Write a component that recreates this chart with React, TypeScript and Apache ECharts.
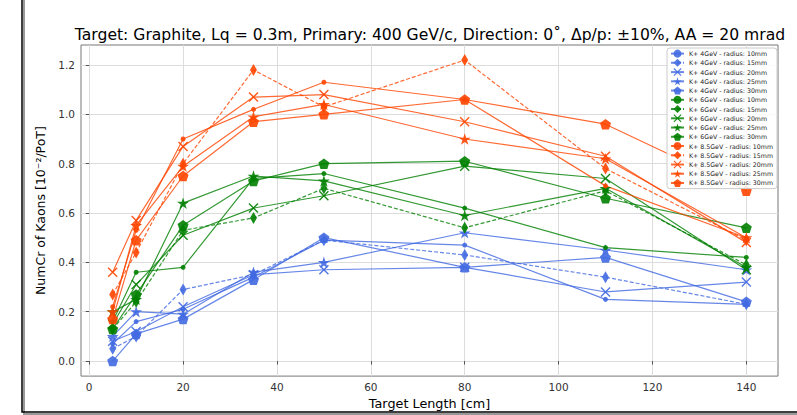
import React, { useEffect, useRef } from "react";
import * as echarts from "echarts";

const xs = [5, 10, 20, 35, 50, 80, 110, 140];

const k4_10 = [0.07, 0.16, 0.21, 0.34, 0.49, 0.47, 0.25, 0.23];
const k4_15 = [0.05, 0.10, 0.29, 0.35, 0.49, 0.43, 0.34, 0.23];
const k4_20 = [0.08, 0.12, 0.22, 0.35, 0.37, 0.38, 0.28, 0.32];
const k4_25 = [0.10, 0.20, 0.19, 0.36, 0.40, 0.52, 0.45, 0.37];
const k4_30 = [0.00, 0.11, 0.17, 0.33, 0.50, 0.38, 0.42, 0.24];

const k6_10 = [0.16, 0.36, 0.38, 0.74, 0.76, 0.62, 0.46, 0.42];
const k6_15 = [0.13, 0.24, 0.53, 0.58, 0.70, 0.54, 0.69, 0.39];
const k6_20 = [0.15, 0.31, 0.51, 0.62, 0.67, 0.79, 0.74, 0.37];
const k6_25 = [0.20, 0.25, 0.64, 0.75, 0.73, 0.59, 0.70, 0.38];
const k6_30 = [0.13, 0.27, 0.55, 0.73, 0.80, 0.81, 0.66, 0.54];

const k8_10 = [0.22, 0.53, 0.90, 1.02, 1.13, 1.06, 0.71, 0.50];
const k8_15 = [0.27, 0.44, 0.80, 1.18, 1.03, 1.22, 0.78, 0.49];
const k8_20 = [0.36, 0.57, 0.87, 1.07, 1.08, 0.97, 0.83, 0.48];
const k8_25 = [0.20, 0.55, 0.79, 0.99, 1.04, 0.90, 0.82, 0.50];
const k8_30 = [0.17, 0.49, 0.75, 0.97, 1.00, 1.06, 0.96, 0.69];

const xTicks = [0, 20, 40, 60, 80, 100, 120, 140];
const yTicks = [0.0, 0.2, 0.4, 0.6, 0.8, 1.0, 1.2];

const groups = [
  { label: "K+ 4GeV", color: "#4169e1", data: [k4_10, k4_15, k4_20, k4_25, k4_30] },
  { label: "K+ 6GeV", color: "#008000", data: [k6_10, k6_15, k6_20, k6_25, k6_30] },
  { label: "K+ 8.5GeV", color: "#ff4500", data: [k8_10, k8_15, k8_20, k8_25, k8_30] },
];
const radii = ["10mm", "15mm", "20mm", "25mm", "30mm"];

const SYM_DIAMOND = "path://M0,0 L5,8 L0,16 L-5,8 Z";
const SYM_X =
  "path://M0,1 L1,0 L5,4 L9,0 L10,1 L6,5 L10,9 L9,10 L5,6 L1,10 L0,9 L4,5 Z";
const SYM_STAR =
  "path://M0,-1 L0.225,-0.309 L0.951,-0.309 L0.363,0.118 L0.588,0.809 L0,0.382 L-0.588,0.809 L-0.363,0.118 L-0.951,-0.309 L-0.225,-0.309 Z";
const SYM_PENT =
  "path://M0,-1 L0.951,-0.309 L0.588,0.809 L-0.588,0.809 L-0.951,-0.309 Z";

const markers: any[] = [
  { symbol: "circle", size: 5, dashed: false },
  { symbol: SYM_DIAMOND, size: [7, 12], dashed: true },
  { symbol: SYM_X, size: 10, dashed: false },
  { symbol: SYM_STAR, size: [12, 11.5], dashed: false },
  { symbol: SYM_PENT, size: [11, 10.5], dashed: false },
];

const FONT = "DejaVu Sans";

export default function App() {
  const ref = useRef<HTMLDivElement>(null);
  useEffect(() => {
    if (!ref.current) return;
    const chart = echarts.init(ref.current, undefined, { renderer: "svg" });
    const series: any[] = [];
    const legendData: string[] = [];
    groups.forEach((g) => {
      g.data.forEach((vals, i) => {
        const name = `${g.label} - radius: ${radii[i]}`;
        legendData.push(name);
        const m = markers[i];
        series.push({
          name,
          type: "line",
          data: xs.map((x, k) => [x, vals[k]]),
          symbol: m.symbol,
          symbolSize: m.size,
          showAllSymbol: true,
          itemStyle: { color: g.color, opacity: 0.9 },
          lineStyle: {
            color: g.color,
            width: 1.2,
            opacity: 0.8,
            type: m.dashed ? [4, 2] : "solid",
          },
          emphasis: { disabled: true },
        });
      });
    });

    chart.setOption({
      animation: false,
      backgroundColor: "#fff",
      title: {
        text:
          "Target: Graphite, Lq = 0.3m, Primary: 400 GeV/c, Direction: 0˚, Δp/p: ±10%, AA = 20 mrad",
        left: 430,
        textAlign: "center",
        top: 27,
        padding: 0,
        textStyle: { fontFamily: FONT, fontSize: 15.6, fontWeight: "normal", color: "#000" },
      },
      legend: {
        data: legendData,
        orient: "vertical",
        right: 20,
        top: 48,
        itemWidth: 13,
        itemHeight: 10,
        itemGap: 0,
        padding: [1, 4, 1, 3],
        backgroundColor: "rgba(255,255,255,0.85)",
        borderColor: "#ccc",
        borderWidth: 1,
        borderRadius: 3,
        textStyle: { fontFamily: FONT, fontSize: 6.25, color: "#222", lineHeight: 9.24 },
      },
      grid: {
        left: 81,
        right: 19,
        top: 45,
        bottom: 35,
        show: true,
        borderColor: "#777",
        borderWidth: 1,
      },
      xAxis: {
        type: "value",
        min: -1.75,
        max: 146.75,
        name: "Target Length [cm]",
        nameLocation: "middle",
        nameGap: 14,
        nameTextStyle: { fontFamily: FONT, fontSize: 12.8, color: "#000" },
        axisLine: { show: false },
        axisTick: { show: true, customValues: xTicks, length: 3.5, lineStyle: { color: "#555" } },
        axisLabel: {
          customValues: xTicks,
          fontFamily: FONT,
          fontSize: 10.5,
          color: "#333",
          margin: 5,
        },
        splitLine: { show: true, lineStyle: { color: "#dcdcdc", width: 1 } },
      },
      yAxis: {
        type: "value",
        min: -0.061,
        max: 1.281,
        name: "NumCr of Kaons [10⁻²/PoT]",
        nameLocation: "middle",
        nameGap: 25,
        nameTextStyle: { fontFamily: FONT, fontSize: 12.5, color: "#000" },
        axisLine: { show: false },
        axisTick: { show: true, customValues: yTicks, length: 3.5, lineStyle: { color: "#555" } },
        axisLabel: {
          customValues: yTicks,
          fontFamily: FONT,
          fontSize: 10.5,
          color: "#333",
          margin: 6,
          formatter: (v: number) => v.toFixed(1),
        },
        splitLine: { show: true, lineStyle: { color: "#dcdcdc", width: 1 } },
      },
      graphic: [
        {
          type: "polyline",
          shape: { points: [[24, 0], [24, 414], [797, 414]] },
          style: { stroke: "#999", lineWidth: 2, fill: "none" },
          silent: true,
        },
        {
          type: "polyline",
          shape: { points: [[22, 0], [22, 412], [797, 412]] },
          style: { stroke: "#000", lineWidth: 1.5, fill: "none" },
          silent: true,
        },
      ],
      series,
    });
    return () => chart.dispose();
  }, []);
  return (
    <div
      ref={ref}
      style={{ position: "fixed", left: 0, top: 0, width: 797, height: 415 }}
    />
  );
}
